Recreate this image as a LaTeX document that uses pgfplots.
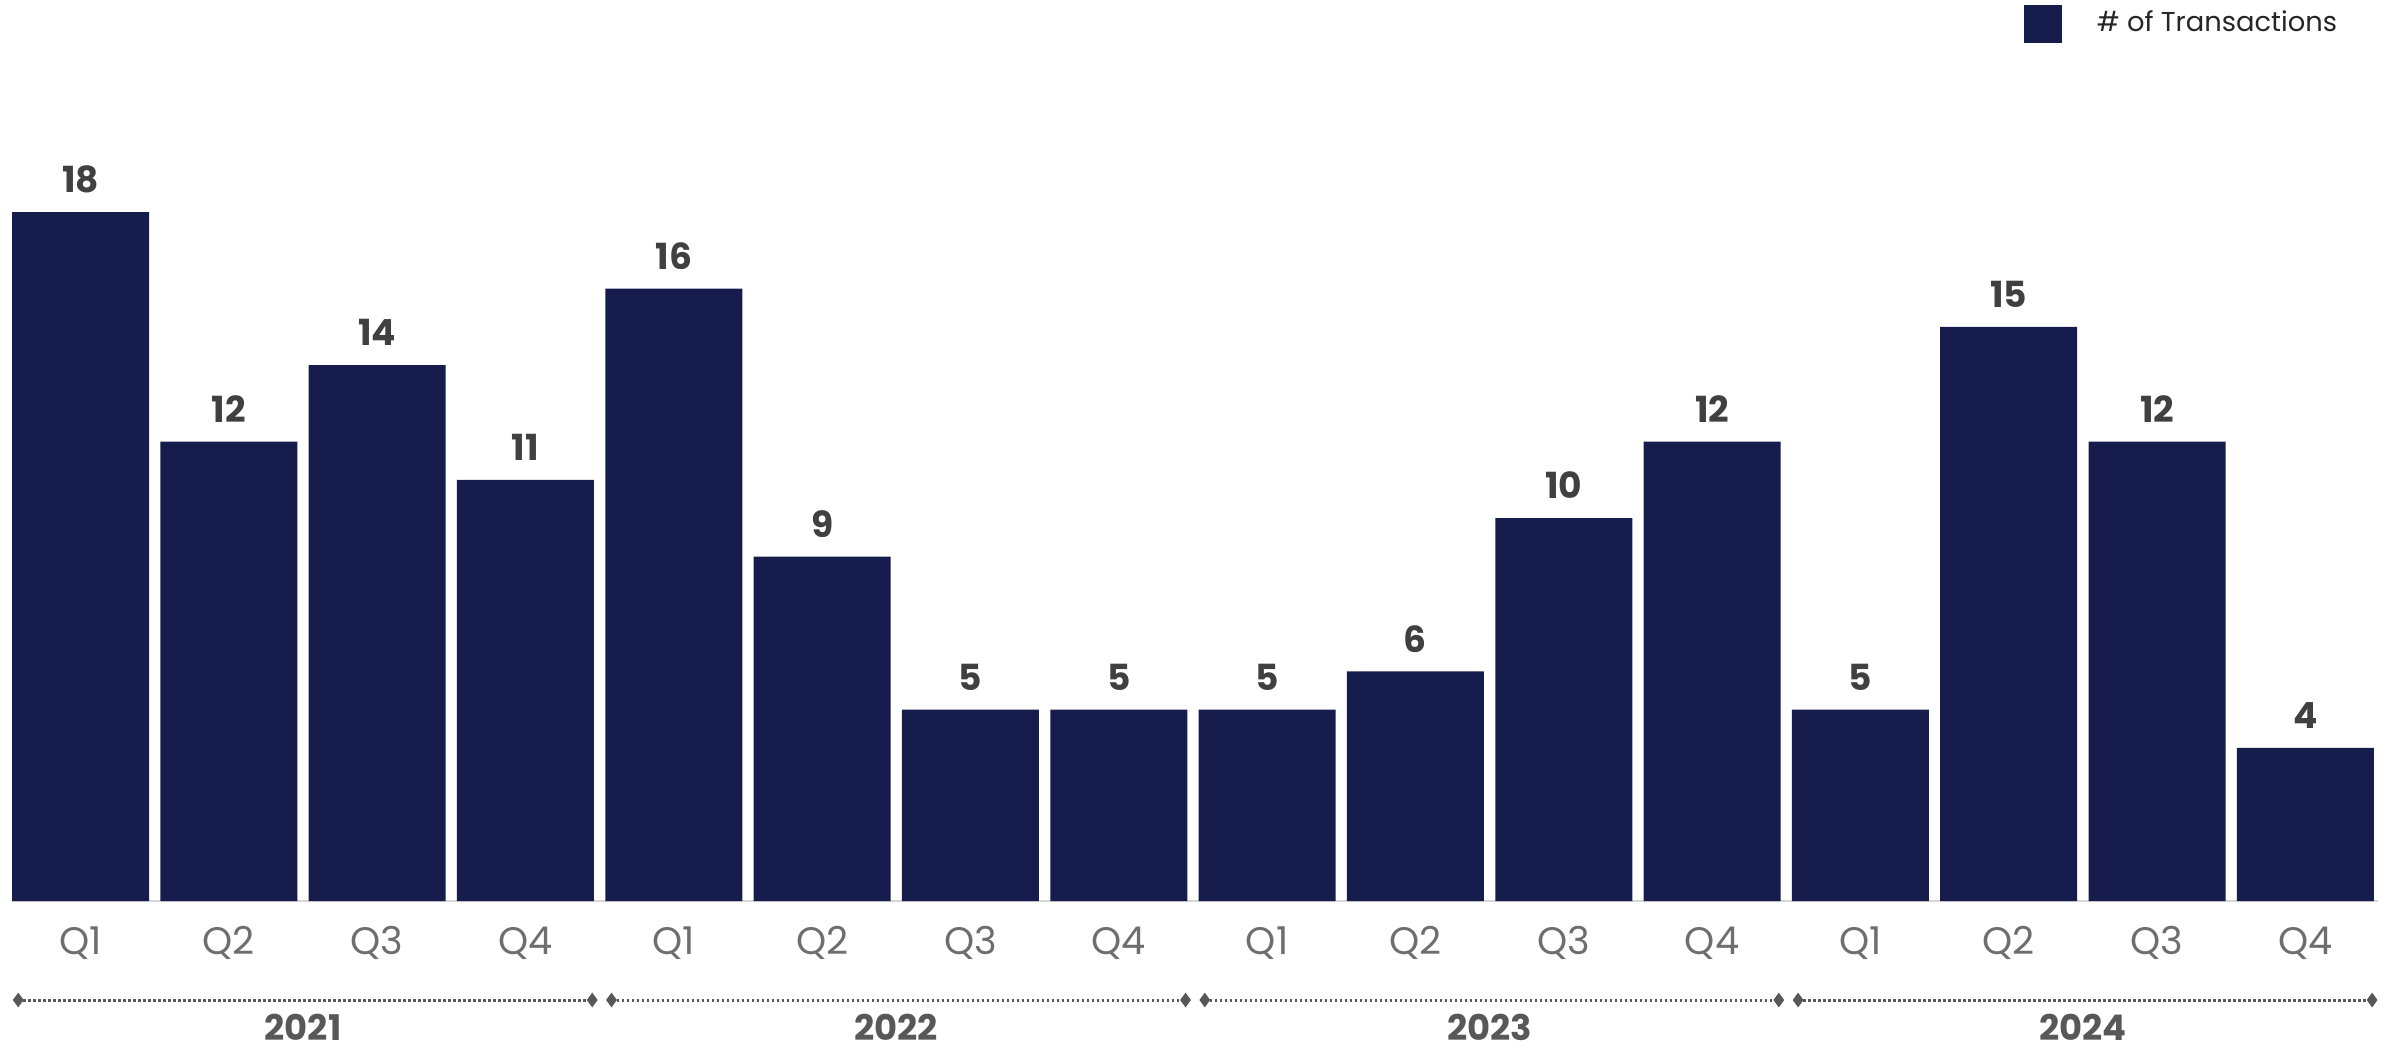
\documentclass[border=0pt]{standalone}
\usepackage{pgfplots}
\pgfplotsset{compat=1.18}
\usetikzlibrary{shapes.geometric}
\usepackage{fontspec}
\setmainfont{Poppins}
\definecolor{barcol}{RGB}{22,28,76}
\definecolor{valcol}{RGB}{64,64,64}
\definecolor{qcol}{RGB}{110,110,110}
\definecolor{yrcol}{RGB}{88,88,88}
\definecolor{axcol}{RGB}{215,215,215}
\begin{document}
\begin{tikzpicture}[x=1pt,y=1pt]
\useasboundingbox (0,0) rectangle (716.1,314.4);
\begin{axis}[
  at={(3.6pt,44.1pt)}, anchor=south west,
  scale only axis, width=709.8pt, height=206.7pt,
  xmin=-0.462, xmax=15.49, ymin=0, ymax=18,
  clip=false,
  ybar, bar width=41.1pt, bar shift=0pt,
  axis x line*=bottom, axis y line=none,
  x axis line style={axcol, line width=0.7pt, -},
  xtick=data, major tick length=0pt,
  xticklabels={Q1,Q2,Q3,Q4,Q1,Q2,Q3,Q4,Q1,Q2,Q3,Q4,Q1,Q2,Q3,Q4},
  xticklabel style={anchor=base, yshift=-15.9pt, inner sep=0pt, text=qcol, font=\fontsize{11.5}{12}\selectfont},
  ytick=\empty,
  /pgf/number format/assume math mode=true,
  nodes near coords,
  every node near coord/.append style={anchor=base, yshift=5.8pt, inner sep=0pt, text=valcol, font=\fontsize{10.8}{12}\selectfont\bfseries},
  legend style={at={(0.85,1.2729)}, anchor=west, draw=none, fill=none, inner sep=0pt,
    font=\fontsize{8.2}{10}\selectfont, text=black!85, legend cell align=left},
  legend image code/.code={\fill[barcol] (0pt,-5.7pt) rectangle (11.4pt,5.7pt);},
  /tikz/every even column/.append style={column sep=0pt},
]
\addplot[fill=barcol, draw=none] coordinates {
(0,18) (1,12) (2,14) (3,11) (4,16) (5,9) (6,5) (7,5)
(8,5) (9,6) (10,10) (11,12) (12,5) (13,15) (14,12) (15,4)};
\addlegendentry{\hspace{8.5pt}\# of Transactions}
\foreach \a/\b/\m/\yr in {-0.42/3.45/1.5/2021, 3.58/7.45/5.5/2022, 7.58/11.45/9.5/2023, 11.58/15.45/13.5/2024}{
  \edef\tmp{\noexpand\draw[yrcol, line width=0.9pt, dash pattern=on 0.8pt off 0.7pt] ([yshift=-29.7pt]axis cs:\a,0) -- ([yshift=-29.7pt]axis cs:\b,0);
  \noexpand\node[diamond, fill=yrcol, inner sep=0pt, minimum width=3.4pt, minimum height=4.6pt] at ([yshift=-29.7pt]axis cs:\a,0) {};
  \noexpand\node[diamond, fill=yrcol, inner sep=0pt, minimum width=3.4pt, minimum height=4.6pt] at ([yshift=-29.7pt]axis cs:\b,0) {};
  \noexpand\node[anchor=center, text=yrcol, font=\noexpand\fontsize{10.6}{12}\noexpand\selectfont\noexpand\bfseries] at ([yshift=-37.8pt]axis cs:\m,0) {\yr};}
  \tmp
}
\end{axis}
\end{tikzpicture}
\end{document}
